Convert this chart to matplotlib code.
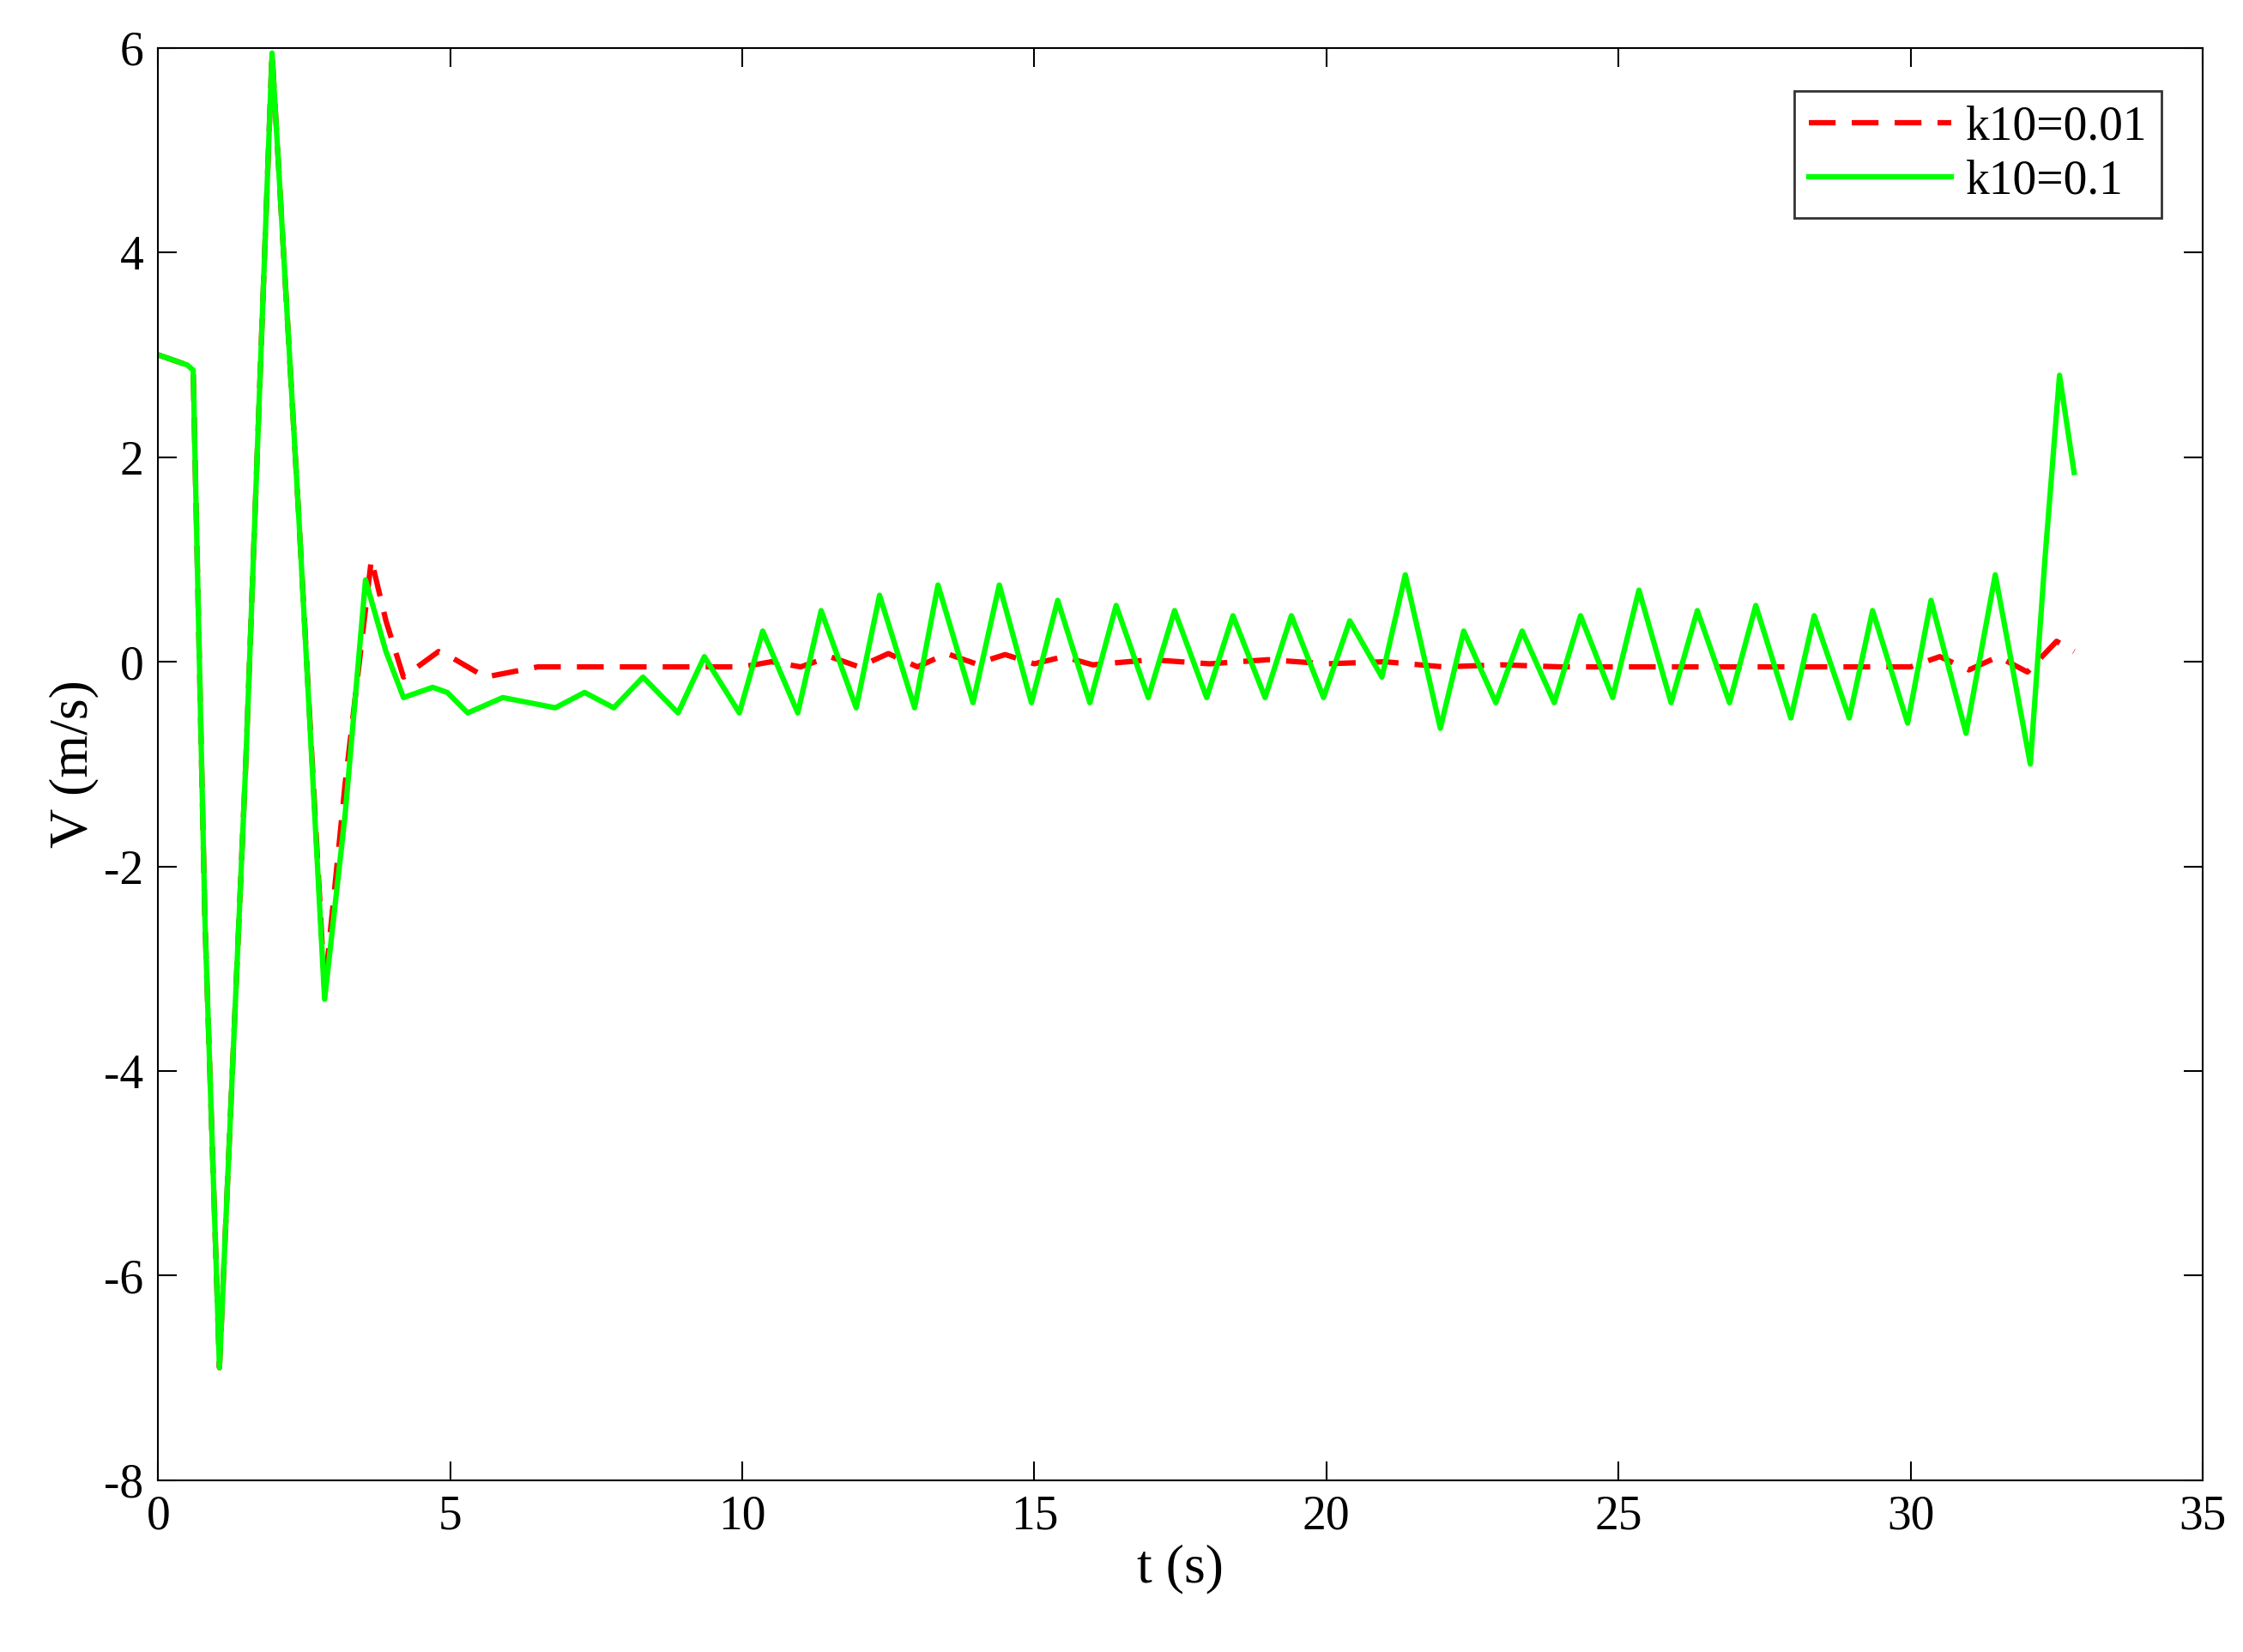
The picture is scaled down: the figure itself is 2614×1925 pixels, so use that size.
import matplotlib
matplotlib.use("Agg")
import matplotlib.pyplot as plt

t_green = [0, 0.5, 0.6, 0.8, 1.05, 1.5, 1.95, 2.4, 2.85, 3.2, 3.55, 3.9, 4.2, 4.7, 4.95, 5.3, 5.9, 6.8, 7.3, 7.8, 8.3, 8.9, 9.35, 9.95,
           10.35, 10.95, 11.35, 11.95, 12.35, 12.95, 13.35, 13.95, 14.4, 14.95, 15.4, 15.95, 16.4, 16.95, 17.4, 17.95,
           18.4, 18.95, 19.4, 19.95, 20.4, 20.95, 21.35, 21.95, 22.35, 22.9, 23.35, 23.9, 24.35, 24.9, 25.35, 25.9,
           26.35, 26.9, 27.35, 27.95, 28.35, 28.95, 29.35, 29.95, 30.35, 30.95, 31.45, 32.05, 32.3, 32.55, 32.8]
v_green = [3.0, 2.9, 2.85, -2.5, -6.9, -1.0, 5.95, 1.5, -3.3, -1.5, 0.8, 0.1, -0.35, -0.25, -0.3, -0.5, -0.35, -0.45, -0.3, -0.45, -0.15, -0.5, 0.05, -0.5,
           0.3, -0.5, 0.5, -0.45, 0.65, -0.45, 0.75, -0.4, 0.75, -0.4, 0.6, -0.4, 0.55, -0.35, 0.5, -0.35,
           0.45, -0.35, 0.45, -0.35, 0.4, -0.15, 0.85, -0.65, 0.3, -0.4, 0.3, -0.4, 0.45, -0.35, 0.7, -0.4,
           0.5, -0.4, 0.55, -0.55, 0.45, -0.55, 0.5, -0.6, 0.6, -0.7, 0.85, -1.0, 1.0, 2.8, 1.85]

t_red = [0, 0.5, 0.6, 0.8, 1.05, 1.5, 1.95, 2.4, 2.85, 3.2, 3.65, 3.9, 4.2, 4.8, 5.0, 5.6, 6.5, 7.0, 8.0, 9.0, 10.0, 10.5, 11.0, 11.5, 12.0,
         12.5, 13.0, 13.5, 14.0, 14.5, 15.0, 15.5, 16.0, 17.0, 18.0, 19.0, 20.0, 21.0, 22.0, 23.0, 24.0, 25.0, 26.0,
         27.0, 28.0, 29.0, 30.0, 30.5, 31.0, 31.5, 32.0, 32.5, 32.8]
v_red = [3.0, 2.9, 2.85, -2.5, -6.9, -1.0, 5.95, 1.5, -3.2, -1.2, 1.0, 0.4, -0.15, 0.1, 0.05, -0.15, -0.05, -0.05, -0.05, -0.05, -0.05, 0.0, -0.05, 0.05, -0.05,
         0.08, -0.05, 0.08, -0.02, 0.07, -0.02, 0.05, -0.03, 0.02, -0.02, 0.02, -0.02, 0.0, -0.05, -0.03, -0.05, -0.05, -0.05,
         -0.05, -0.05, -0.05, -0.05, 0.05, -0.08, 0.05, -0.1, 0.2, 0.1]

plt.rcParams['font.family'] = ['Liberation Serif', 'DejaVu Serif']
plt.rcParams['axes.unicode_minus'] = False
fig = plt.figure(figsize=(26.14, 19.25), dpi=100)
ax = fig.add_axes([0.0705, 0.104, 0.9115, 0.867])
ax.plot(t_red, v_red, '--', color='red', lw=4.5, dashes=(5, 3), label='k10=0.01')
ax.plot(t_green, v_green, '-', color='#00ff00', lw=4.5, label='k10=0.1')
ax.set_xlim(0, 35)
ax.set_ylim(-8, 6)
ax.set_xticks(range(0, 36, 5))
ax.set_yticks(range(-8, 7, 2))
ax.tick_params(direction='in', top=True, right=True, labelsize=40, length=16, width=1.5, pad=12)
for s in ax.spines.values():
    s.set_linewidth(1.5)
ax.set_xlabel('t (s)', fontsize=46)
ax.set_ylabel('V (m/s)', fontsize=46)
leg = ax.legend(loc='upper right', fontsize=40, fancybox=False, edgecolor='black', handlelength=3.0,
                bbox_to_anchor=(0.98, 0.97), borderaxespad=0, handletextpad=0.3, borderpad=0.3, labelspacing=0.2)
leg.get_frame().set_linewidth(2)
fig.savefig('out.png', dpi=100)
